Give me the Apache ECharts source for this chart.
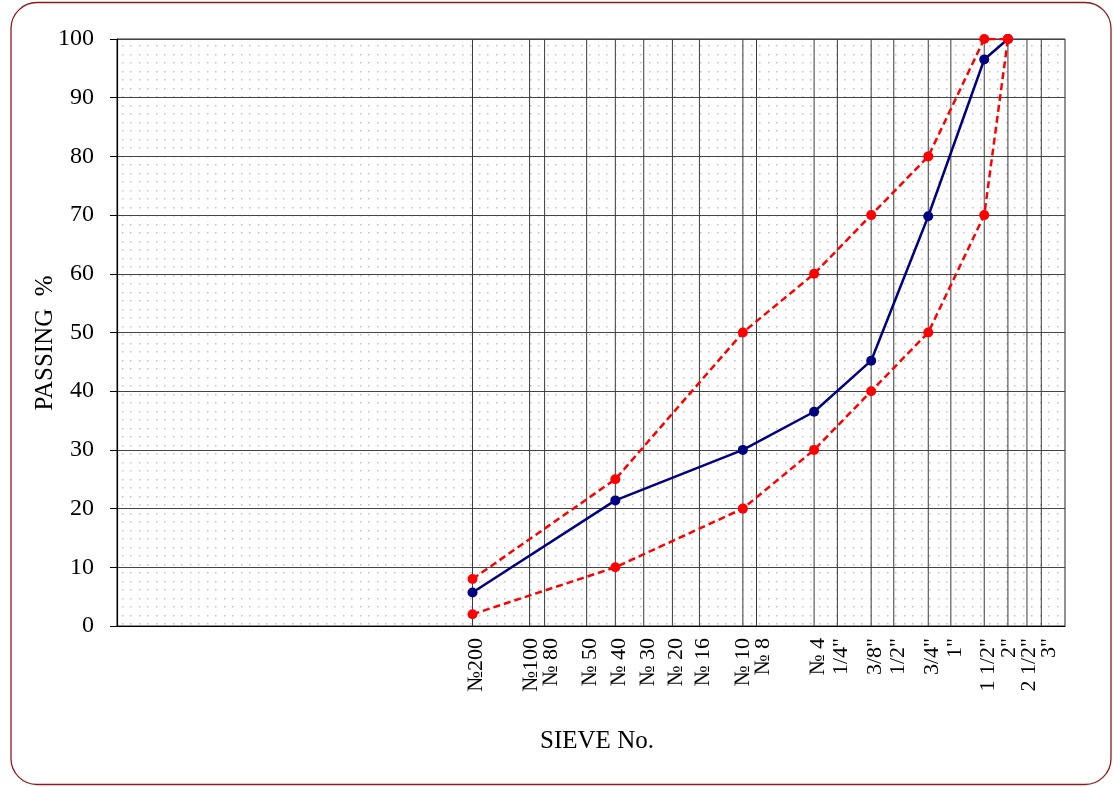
<!DOCTYPE html>
<html>
<head>
<meta charset="utf-8">
<script src="https://cdn.jsdelivr.net/npm/echarts@6/dist/echarts.min.js"></script>
<style>
  html, body { margin: 0; padding: 0; background: #fff; }
  #chart { width: 1113px; height: 787px; }
</style>
</head>
<body>
<div id="chart"></div>
<script>
// Sieve openings (mm) and their names along the grading axis
const sieveSizes = [0.075, 0.15, 0.18, 0.3, 0.425, 0.6, 0.85, 1.18, 2.0, 2.36, 4.75, 6.3, 9.5, 12.5, 19, 25, 37.5, 50, 63, 75];
const sieveLabels = ['№200', '№100', '№ 80', '№ 50', '№ 40', '№ 30', '№ 20', '№ 16', '№ 10', '№ 8', '№ 4',
  '1/4"', '3/8"', '1/2"', '3/4"', '1"', '1 1/2"', '2"', '2 1/2"', '3"'];

// Sieves used for the gradation test
const testSieves = [0.075, 0.425, 2.0, 4.75, 9.5, 19, 37.5, 50];
// Percent passing of the sample
const passing = [5.7, 21.4, 30, 36.5, 45.2, 69.8, 96.5, 100];
// Specification envelope
const upperLimit = [8, 25, 50, 60, 70, 80, 100, 100];
const lowerLimit = [2, 10, 20, 30, 40, 50, 70, 100];

const yTicks = [0, 10, 20, 30, 40, 50, 60, 70, 80, 90, 100];

const SERIF = '"Liberation Serif", "Times New Roman", "DejaVu Serif", serif';

// dotted fill tile for the plot area
const tile = document.createElement('canvas');
tile.width = 17; tile.height = 17;
(function () {
  const g = tile.getContext('2d');
  g.fillStyle = '#ffffff';
  g.fillRect(0, 0, 17, 17);
  g.fillStyle = '#c4c4c4';
  [[3, 3], [11, 3], [3, 11], [11, 11]].forEach(function (p) { g.fillRect(p[0], p[1], 1.5, 1.5); });
})();

const pairs = (ys) => testSieves.map((s, i) => [s, ys[i]]);

// spread label anchors so neighbouring rotated names keep a minimum gap
function spreadLabels(xs, gap) {
  const out = xs.slice();
  for (let pass = 0; pass < 30; pass++) {
    for (let i = 1; i < out.length; i++) {
      const d = out[i] - out[i - 1];
      if (d < gap) {
        const push = (gap - d) / 2;
        out[i - 1] -= push;
        out[i] += push;
      }
    }
  }
  return out;
}

const chart = echarts.init(document.getElementById('chart'), null, { renderer: 'canvas' });

chart.setOption({
  animation: false,
  backgroundColor: '#ffffff',
  grid: {
    left: 117, top: 39, right: 48, bottom: 161,
    show: true, borderColor: '#222', borderWidth: 1, backgroundColor: 'transparent'
  },
  xAxis: {
    type: 'log', logBase: 10, min: 0.001, max: 100,
    axisLine: { show: true, onZero: false, lineStyle: { color: '#000', width: 1.2 } },
    axisTick: { show: false },
    axisLabel: { show: false },
    splitLine: { show: false },
    minorSplitLine: { show: false }
  },
  yAxis: {
    type: 'value', min: yTicks[0], max: yTicks[yTicks.length - 1], interval: yTicks[1] - yTicks[0],
    axisLine: { show: true, lineStyle: { color: '#000', width: 1.2 } },
    axisTick: { show: true, inside: false, length: 7, lineStyle: { color: '#000' } },
    axisLabel: { margin: 23, fontFamily: SERIF, fontSize: 24, color: '#000' },
    splitLine: { show: true, lineStyle: { color: '#444', width: 1 } }
  },
  graphic: [
    {
      type: 'rect', z: 100,
      shape: { x: 11, y: 2.5, width: 1100, height: 782, r: 26 },
      style: { fill: null, stroke: '#8e1b1b', lineWidth: 1.3 }
    },
    {
      type: 'text', z: 100, x: 45, y: 343, rotation: Math.PI / 2,
      style: { text: 'PASSING  %', fontFamily: SERIF, fontSize: 25, fill: '#000', align: 'center', verticalAlign: 'middle' }
    },
    {
      type: 'text', z: 100, x: 597, y: 741,
      style: { text: 'SIEVE No.', fontFamily: SERIF, fontSize: 25, fill: '#000', align: 'center', verticalAlign: 'middle' }
    }
  ],
  series: [
    {
      // dotted plot-area background
      type: 'custom', z: -1, silent: true,
      data: [[0.001, 0]],
      renderItem: function (params, api) {
        const a = api.coord([0.001, 100]);
        const b = api.coord([100, 0]);
        return {
          type: 'rect',
          shape: { x: a[0], y: a[1], width: b[0] - a[0], height: b[1] - a[1] },
          style: { fill: { image: tile, repeat: 'repeat' } }
        };
      }
    },
    {
      // vertical lines at each sieve opening plus rotated sieve names
      type: 'custom', z: 1, silent: true,
      data: sieveSizes.map((s, i) => [s, 0, i]),
      encode: { x: 0, y: 1 },
      renderItem: function (params, api) {
        const idx = api.value(2);
        const xs = spreadLabels(sieveSizes.map(function (s) { return api.coord([s, 0])[0] + 4; }), 20);
        const bottom = api.coord([sieveSizes[idx], 0]);
        const top = api.coord([sieveSizes[idx], 100]);
        return {
          type: 'group',
          children: [
            {
              type: 'line',
              shape: { x1: bottom[0], y1: bottom[1], x2: top[0], y2: top[1] },
              style: { stroke: '#3a3a3a', lineWidth: 1 }
            },
            {
              type: 'text',
              x: xs[idx], y: bottom[1] + 12, rotation: Math.PI / 2,
              style: {
                text: sieveLabels[idx], fontFamily: SERIF, fontSize: 22, fill: '#000',
                align: 'right', verticalAlign: 'middle'
              }
            }
          ]
        };
      }
    },
    {
      name: 'Sample', type: 'line', z: 3,
      data: pairs(passing),
      symbol: 'circle', symbolSize: 10,
      lineStyle: { color: '#000080', width: 2.5 },
      itemStyle: { color: '#000080' }
    },
    {
      name: 'Upper limit', type: 'line', z: 4,
      data: pairs(upperLimit),
      symbol: 'circle', symbolSize: 10,
      lineStyle: { color: '#ff0000', width: 2.5, type: [7, 4] },
      itemStyle: { color: '#ff0000' }
    },
    {
      name: 'Lower limit', type: 'line', z: 4,
      data: pairs(lowerLimit),
      symbol: 'circle', symbolSize: 10,
      lineStyle: { color: '#ff0000', width: 2.5, type: [7, 4] },
      itemStyle: { color: '#ff0000' }
    }
  ]
});
</script>
</body>
</html>
